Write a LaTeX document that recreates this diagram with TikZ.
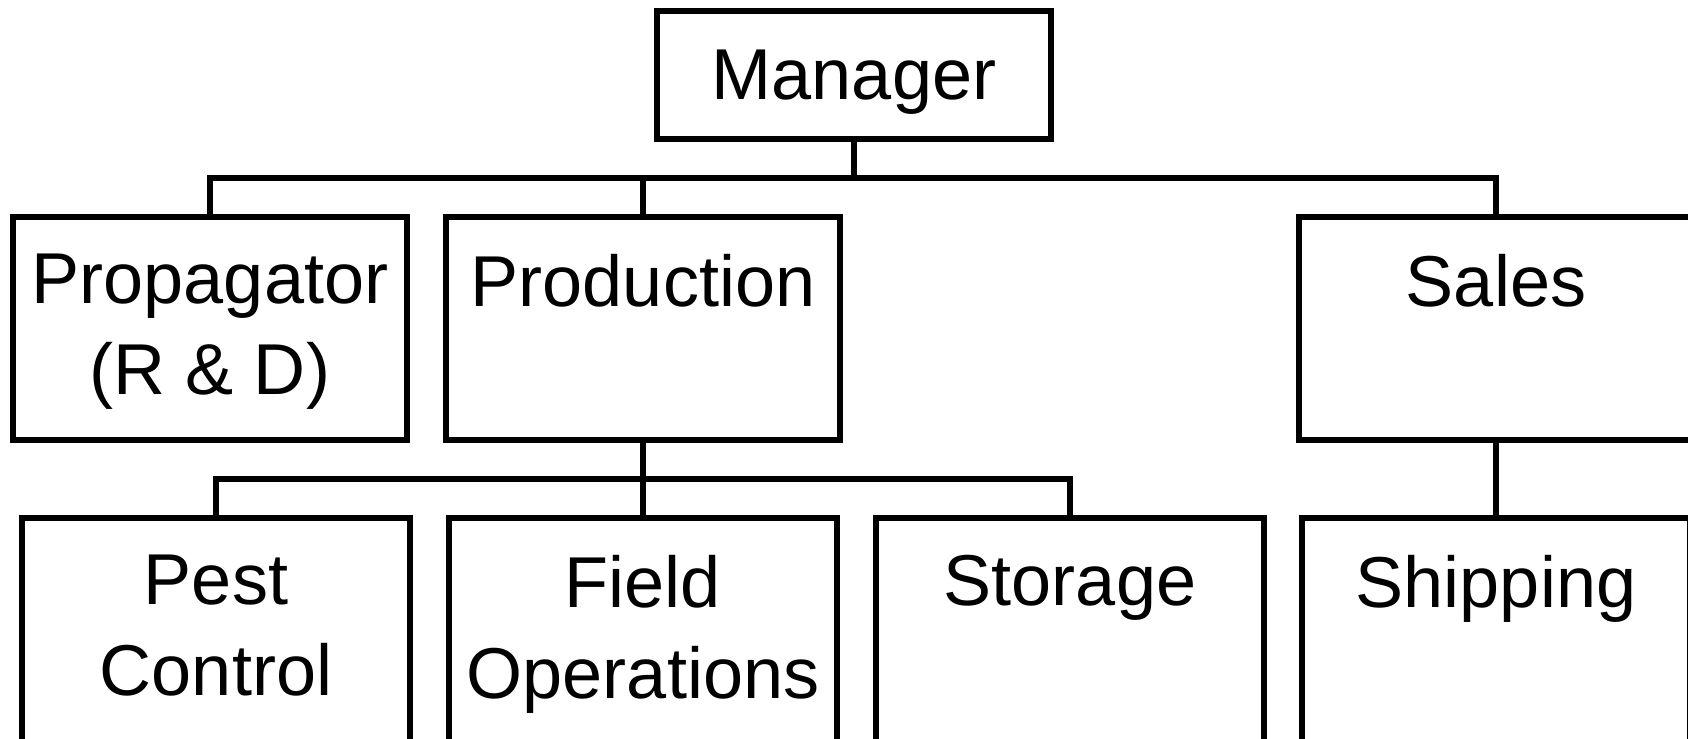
\documentclass[tikz,border=0pt]{standalone}
\usepackage{fontspec}
\setmainfont{Liberation Sans}
\usetikzlibrary{positioning}
\tikzset{unit/.style={rectangle, draw=black, line width=1.2mm, inner sep=0pt, outer sep=0pt, minimum width=7.88cm, minimum height=2.56cm, font=\fontsize{41}{52}\selectfont}}
\tikzset{dept/.style={unit, minimum height=4.46cm}}
\tikzset{sub/.style={unit, minimum width=7.76cm, minimum height=4.6cm}}
\tikzset{link/.style={line width=1.1mm}}
\newcommand{\toptext}[2]{\parbox[c][#1][t]{7.6cm}{\vspace*{0.74cm}\centering #2}}

\begin{document}
\begin{tikzpicture}[node distance=0.78cm]
      \useasboundingbox (0,0) rectangle (33.76,-14.78);
      \clip (0,0) rectangle (33.76,-14.78);

      \node[unit, text depth=0pt] (mgr) at (17.08,-1.5) {Manager};

      \node[dept] (prop) at (4.2,-6.57) {\toptext{4.46cm}{Propagator\\(R \& D)}};
      \node[dept] (prod) [right=of prop] {\toptext{4.46cm}{Production}};
      \node[dept] (sales) [right=9.18cm of prod] {\toptext{4.46cm}{Sales}};

      \node[sub] (pest)  [below=1.56cm of prop, xshift=0.12cm] {\toptext{4.6cm}{Pest\\Control}};
      \node[sub] (field) [right=0.78cm of pest] {\toptext{4.6cm}{Field\\Operations}};
      \node[sub] (stor)  [right=of field] {\toptext{4.6cm}{Storage}};
      \node[sub] (ship)  [right=of stor, xshift=-0.02cm] {\toptext{4.6cm}{Shipping}};

      \draw[link] (mgr.south) -- ++(0,-0.78) coordinate (top);
      \draw[link] (prop.north) |- (top) -| (sales.north);
      \draw[link] (prod.north) -- (prod.north |- top);

      \path (prod.south) ++(0,-0.78) coordinate (mid);
      \draw[link] (prod.south) -- (prod.south |- field.north);
      \draw[link] (pest.north) |- (mid) -| (stor.north);
      \draw[link] (sales.south) -- (sales.south |- ship.north);
    \end{tikzpicture}
\end{document}
